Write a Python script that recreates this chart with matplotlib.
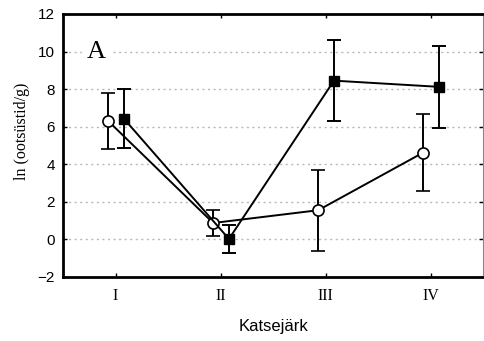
import numpy as np
import matplotlib.pyplot as plt

# data
stages = ['I', 'II', 'III', 'IV']
open_mean = [6.3, 0.87, 1.55, 4.62]
open_err = [1.5, 0.7, 2.15, 2.07]
filled_mean = [6.42, 0.02, 8.45, 8.12]
filled_err = [1.57, 0.74, 2.15, 2.17]

x = np.arange(1, len(stages) + 1)

fig = plt.figure(figsize=(4.85, 3.41), dpi=100)
ax = fig.add_axes([0.13, 0.188, 0.866, 0.771])

ax.errorbar(x - 0.07, open_mean, yerr=open_err, fmt='-o', color='black',
            mfc='white', mec='black', ms=8, lw=1.4, elinewidth=1.4,
            capsize=5, capthick=1.4, mew=1.2, zorder=3)
ax.errorbar(x + 0.08, filled_mean, yerr=filled_err, fmt='-s', color='black',
            mfc='black', ms=7, lw=1.4, elinewidth=1.4,
            capsize=5, capthick=1.4, zorder=3)

ax.set_xlim(0.5, 4.5)
ax.set_ylim(-2, 12)
ax.set_xticks(x)
ax.set_xticklabels(stages, family='Liberation Serif', fontsize=11.5)
ax.set_yticks(np.arange(-2, 13, 2))
for lab in ax.get_yticklabels():
    lab.set_family('Liberation Sans')
    lab.set_fontsize(11)
ax.tick_params(direction='in', length=3, width=1, top=True, right=True, pad=6)
ax.tick_params(axis='x', pad=8)

ax.yaxis.grid(True, linestyle=(0, (1.5, 2.5)), color='#b8b8b8', lw=1)
ax.set_axisbelow(True)

for s in ['left', 'bottom', 'top']:
    ax.spines[s].set_linewidth(2)
ax.spines['right'].set_linewidth(0.8)
ax.spines['right'].set_color('#888888')

ax.set_xlabel('Katsejärk', family='Liberation Sans', fontsize=12, labelpad=11)
ax.set_ylabel('ln (ootsüstid/g)', family='Liberation Serif', fontsize=11.5)
ax.yaxis.set_label_coords(-0.078, 0.555)

ax.text(0.08, 0.855, 'A', transform=ax.transAxes, family='Liberation Serif',
        fontsize=19, ha='center', va='center',
        bbox=dict(facecolor='white', edgecolor='none', pad=4), zorder=2)

fig.savefig('out.png', dpi=100)
